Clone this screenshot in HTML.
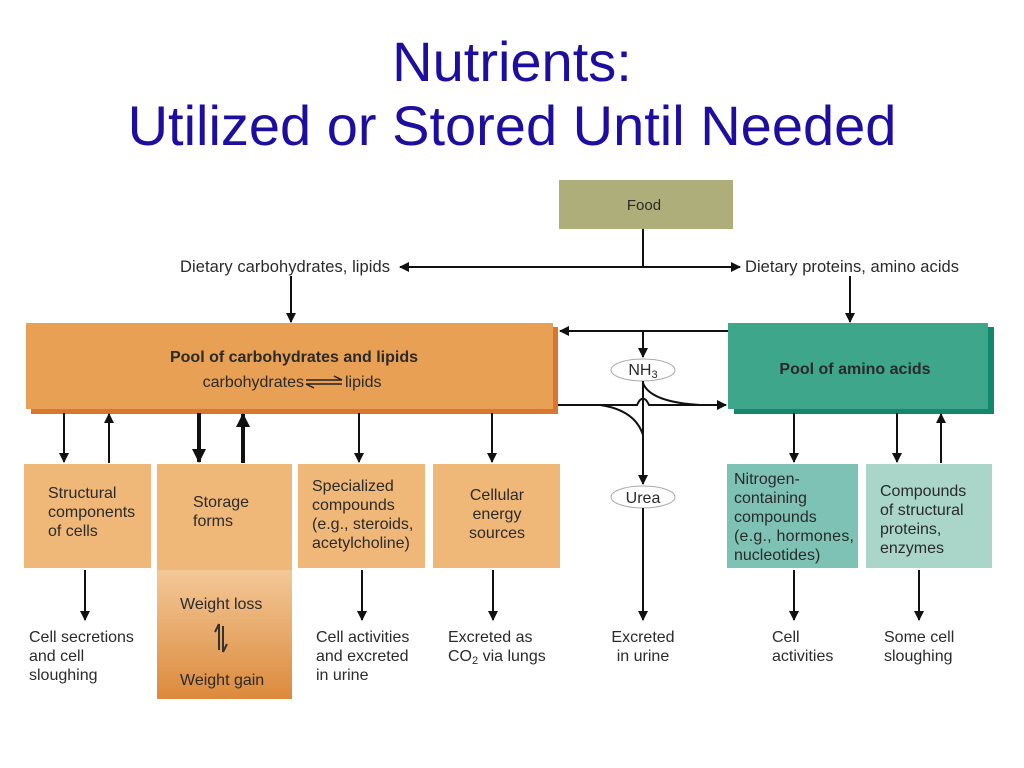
<!DOCTYPE html>
<html><head><meta charset="utf-8"><style>
html,body{margin:0;padding:0;background:#fff;}
svg{display:block;}
text{font-family:"Liberation Sans",Arial,sans-serif;fill:#2a2a2a;}
</style></head><body>
<svg width="1024" height="768" viewBox="0 0 1024 768" xmlns="http://www.w3.org/2000/svg">
<defs>
<marker id="a" markerWidth="10" markerHeight="10" refX="9" refY="5" orient="auto" markerUnits="userSpaceOnUse"><path d="M0,0 L10,5 L0,10 z" fill="#111"/></marker>
<marker id="b" markerWidth="14" markerHeight="14" refX="13" refY="7" orient="auto" markerUnits="userSpaceOnUse"><path d="M0,0 L14,7 L0,14 z" fill="#111"/></marker>
<linearGradient id="g" x1="0" y1="0" x2="0" y2="1"><stop offset="0" stop-color="#f3c898"/><stop offset="1" stop-color="#dc8a3c"/></linearGradient>
</defs>
<text x="512" y="81" font-size="56" text-anchor="middle" style="fill:#1e0ea0">Nutrients:</text>
<text x="512" y="145" font-size="56" text-anchor="middle" style="fill:#1e0ea0">Utilized or Stored Until Needed</text>

<rect x="559" y="180" width="174" height="49" fill="#aeae7a"/>
<text x="644" y="210" font-size="15" text-anchor="middle">Food</text>
<line x1="643" y1="229" x2="643" y2="267" stroke="#111" stroke-width="2"/>
<line x1="643" y1="267" x2="400" y2="267" stroke="#111" stroke-width="2" marker-end="url(#a)"/>
<line x1="643" y1="267" x2="740" y2="267" stroke="#111" stroke-width="2" marker-end="url(#a)"/>
<text x="180" y="272" font-size="16.5" textLength="210">Dietary carbohydrates, lipids</text>
<text x="745" y="272" font-size="16.5" textLength="214">Dietary proteins, amino acids</text>
<line x1="291" y1="276" x2="291" y2="322" stroke="#111" stroke-width="2" marker-end="url(#a)"/>
<line x1="850" y1="276" x2="850" y2="322" stroke="#111" stroke-width="2" marker-end="url(#a)"/>

<rect x="31" y="327" width="527" height="87" fill="#d9772e"/>
<rect x="26" y="323" width="527" height="86" fill="#e8a055"/>
<text x="294" y="362" font-size="16" font-weight="bold" text-anchor="middle">Pool of carbohydrates and lipids</text>
<text x="304" y="387" font-size="16" text-anchor="end">carbohydrates</text>
<path d="M306,380 L342,380 M334,376 L342,380 M306,384 L342,384 M306,384 L314,388" stroke="#222" stroke-width="1.5" fill="none"/>
<text x="345" y="387" font-size="16">lipids</text>

<rect x="734" y="327" width="260" height="87" fill="#12876c"/>
<rect x="728" y="323" width="260" height="86" fill="#3da68b"/>
<text x="855" y="374" font-size="16" font-weight="bold" text-anchor="middle">Pool of amino acids</text>

<line x1="728" y1="331" x2="560" y2="331" stroke="#111" stroke-width="2" marker-end="url(#a)"/>
<line x1="643" y1="331" x2="643" y2="357" stroke="#111" stroke-width="2" marker-end="url(#a)"/>
<ellipse cx="643" cy="370" rx="32" ry="11" fill="#fff" stroke="#aaa" stroke-width="1"/>
<text x="643" y="375" font-size="16" text-anchor="middle">NH<tspan font-size="11" dy="3">3</tspan></text>
<path d="M558,405 L637,405 Q643,392 649,405 L726,405" stroke="#111" stroke-width="2" fill="none" marker-end="url(#a)"/>
<path d="M600,405 Q635,410 643,435" stroke="#111" stroke-width="2" fill="none"/>
<path d="M643,383 Q650,402 700,405" stroke="#111" stroke-width="2" fill="none"/>
<line x1="643" y1="381" x2="643" y2="484" stroke="#111" stroke-width="2" marker-end="url(#a)"/>
<ellipse cx="643" cy="497" rx="32" ry="11" fill="#fff" stroke="#aaa" stroke-width="1"/>
<text x="643" y="503" font-size="16" text-anchor="middle">Urea</text>
<line x1="643" y1="508" x2="643" y2="620" stroke="#111" stroke-width="2" marker-end="url(#a)"/>

<g stroke="#111" stroke-width="2">
<line x1="64" y1="413" x2="64" y2="462" marker-end="url(#a)"/>
<line x1="109" y1="463" x2="109" y2="414" marker-end="url(#a)"/>
<line x1="359" y1="413" x2="359" y2="462" marker-end="url(#a)"/>
<line x1="492" y1="413" x2="492" y2="462" marker-end="url(#a)"/>
<line x1="794" y1="413" x2="794" y2="462" marker-end="url(#a)"/>
<line x1="897" y1="413" x2="897" y2="462" marker-end="url(#a)"/>
<line x1="941" y1="463" x2="941" y2="414" marker-end="url(#a)"/>
</g>
<g stroke="#111" stroke-width="4">
<line x1="199" y1="413" x2="199" y2="462" marker-end="url(#b)"/>
<line x1="243" y1="463" x2="243" y2="414" marker-end="url(#b)"/>
</g>

<rect x="24" y="464" width="127" height="104" fill="#f0b878"/>
<rect x="157" y="464" width="135" height="106" fill="#f0b878"/>
<rect x="157" y="570" width="135" height="129" fill="url(#g)"/>
<rect x="298" y="464" width="127" height="104" fill="#f0b878"/>
<rect x="433" y="464" width="127" height="104" fill="#f0b878"/>
<rect x="727" y="464" width="131" height="104" fill="#7ec2b6"/>
<rect x="866" y="464" width="126" height="104" fill="#a9d6c9"/>

<g font-size="16">
<text x="48" y="498">Structural</text><text x="48" y="517">components</text><text x="48" y="536">of cells</text>
<text x="193" y="507">Storage</text><text x="193" y="526">forms</text>
<text x="180" y="609">Weight loss</text><text x="180" y="685">Weight gain</text>
<text x="312" y="491">Specialized</text><text x="312" y="510">compounds</text><text x="312" y="529">(e.g., steroids,</text><text x="312" y="548">acetylcholine)</text>
<text x="497" y="500" text-anchor="middle">Cellular</text><text x="497" y="519" text-anchor="middle">energy</text><text x="497" y="538" text-anchor="middle">sources</text>
<text x="734" y="484">Nitrogen-</text><text x="734" y="503">containing</text><text x="734" y="522">compounds</text><text x="734" y="541" textLength="120">(e.g., hormones,</text><text x="734" y="560">nucleotides)</text>
<text x="880" y="496">Compounds</text><text x="880" y="515">of structural</text><text x="880" y="534">proteins,</text><text x="880" y="553">enzymes</text>
</g>
<path d="M219,624 L219,650 M219,624 L215,632 M223,626 L223,652 M223,652 L227,644" stroke="#333" stroke-width="2" fill="none"/>

<g stroke="#111" stroke-width="2">
<line x1="85" y1="570" x2="85" y2="620" marker-end="url(#a)"/>
<line x1="362" y1="570" x2="362" y2="620" marker-end="url(#a)"/>
<line x1="493" y1="570" x2="493" y2="620" marker-end="url(#a)"/>
<line x1="794" y1="570" x2="794" y2="620" marker-end="url(#a)"/>
<line x1="919" y1="570" x2="919" y2="620" marker-end="url(#a)"/>
</g>
<g font-size="16">
<text x="29" y="642">Cell secretions</text><text x="29" y="661">and cell</text><text x="29" y="680">sloughing</text>
<text x="316" y="642">Cell activities</text><text x="316" y="661">and excreted</text><text x="316" y="680">in urine</text>
<text x="448" y="642">Excreted as</text><text x="448" y="661">CO<tspan font-size="11" dy="3">2</tspan><tspan dy="-3"> via lungs</tspan></text>
<text x="643" y="642" text-anchor="middle">Excreted</text><text x="643" y="661" text-anchor="middle">in urine</text>
<text x="772" y="642">Cell</text><text x="772" y="661">activities</text>
<text x="884" y="642">Some cell</text><text x="884" y="661">sloughing</text>
</g>
</svg>
</body></html>
